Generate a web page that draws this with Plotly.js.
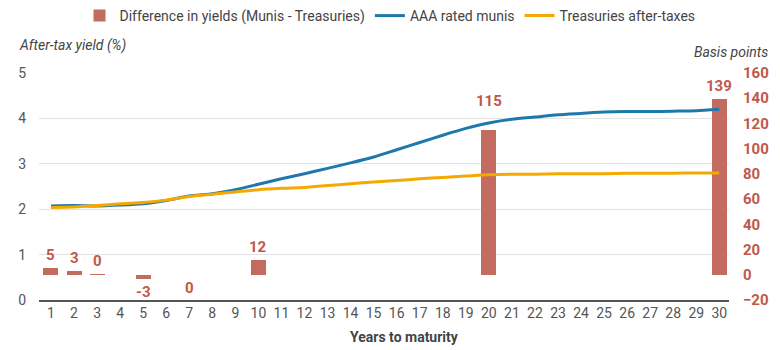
<!DOCTYPE html>
<html>
<head>
<meta charset="utf-8">
<script src="https://cdn.plot.ly/plotly-3.0.1.min.js"></script>
<style>html,body{margin:0;padding:0;background:#fff;}#chart{width:780px;height:350px;}</style>
</head>
<body>
<div id="chart"></div>
<script>
// Years to maturity
const years = [1,2,3,4,5,6,7,8,9,10,11,12,13,14,15,16,17,18,19,20,21,22,23,24,25,26,27,28,29,30];
// After-tax yield (%) – AAA rated munis
const muniYields = [2.07,2.08,2.07,2.09,2.12,2.19,2.29,2.34,2.43,2.55,2.67,2.78,2.90,3.02,3.15,3.31,3.47,3.63,3.78,3.90,3.98,4.03,4.08,4.11,4.14,4.15,4.15,4.16,4.17,4.20];
// After-tax yield (%) – Treasuries after taxes
const treasuryYields = [2.04,2.05,2.08,2.12,2.15,2.20,2.28,2.33,2.38,2.43,2.46,2.48,2.52,2.56,2.60,2.63,2.67,2.70,2.73,2.76,2.77,2.77,2.78,2.78,2.78,2.79,2.79,2.79,2.80,2.80];
// Difference in yields (basis points)
const diffYears = [1,2,3,5,7,10,20,30];
const diffValues = [5,3,0.4,-3,-0.4,12,115,139];
const diffLabels = ["5","3","0","-3","0","12","115","139"];
const xTicks = years;
const leftTicks = [0,1,2,3,4,5];
const rightTicks = [-20,0,20,40,60,80,100,120,140,160];

const FONT = "Roboto, 'Liberation Sans', Arial, sans-serif";
const RED = "#c0584b";
const BAR = "#c26b5e";
const BLUE = "#1f78ab";
const ORANGE = "#f4a900";

// label placement style (pixels), kept apart from the data
const LABEL_GAP = 10;
const LABEL_EXTRA = {20: 16};

const traces = [
  {
    type: "bar", name: "Difference in yields (Munis - Treasuries)",
    x: diffYears, y: diffValues,
    marker: {color: BAR}, width: 0.65, yaxis: "y", hoverinfo: "skip"
  },
  {
    type: "scatter", mode: "lines", name: "AAA rated munis",
    x: years, y: muniYields, yaxis: "y2",
    line: {color: BLUE, width: 3, shape: "spline", smoothing: 0.6}
  },
  {
    type: "scatter", mode: "lines", name: "Treasuries after-taxes",
    x: years, y: treasuryYields, yaxis: "y2",
    line: {color: ORANGE, width: 3, shape: "spline", smoothing: 0.6}
  }
];

const barLabels = diffYears.map((yr, i) => ({
  text: "<b>" + diffLabels[i] + "</b>", x: yr, y: diffValues[i], xref: "x", yref: "y",
  showarrow: false, xanchor: "center", yanchor: diffValues[i] >= 0 ? "bottom" : "top",
  yshift: diffValues[i] >= 0 ? (2 + (LABEL_EXTRA[yr] || 0)) : -2,
  font: {family: FONT, size: 15, color: RED}
}));

const layout = {
  width: 780, height: 350,
  margin: {l: 39, r: 51, t: 73, b: 50},
  paper_bgcolor: "#fff", plot_bgcolor: "#fff",
  font: {family: FONT, size: 14, color: "#555"},
  showlegend: true,
  legend: {orientation: "h", xref: "container", yref: "container", x: 0.5, xanchor: "center", y: 1.0, yanchor: "top",
           font: {family: FONT, size: 14, color: "#444"}, itemwidth: 30, tracegroupgap: 0, traceorder: "normal"},
  bargap: 0,
  xaxis: {
    range: [0.48, 30.42], tickmode: "array", tickvals: xTicks, ticktext: xTicks.map(String),
    showgrid: false, zeroline: false, showline: true, linecolor: "#555", linewidth: 1.5,
    ticks: "", tickfont: {family: FONT, size: 14, color: "#555"}
  },
  yaxis: {
    side: "right", range: [-20, 160], tickmode: "array", tickvals: rightTicks,
    showgrid: false, zeroline: false, ticks: "", ticklabelstandoff: 13,
    tickfont: {family: FONT, size: 15, color: RED, weight: "bold"}
  },
  yaxis2: {
    side: "left", overlaying: "y", range: [0, 5], tickmode: "array", tickvals: leftTicks,
    showgrid: true, gridcolor: "#e3e3e3", gridwidth: 1, zeroline: false, ticks: "", ticklabelstandoff: 12,
    tickfont: {family: FONT, size: 14, color: "#555"}
  },
  annotations: barLabels.concat([
    {text: "After-tax yield (%)", xref: "paper", yref: "paper", x: -0.032, y: 1.119, xanchor: "left", yanchor: "middle",
     showarrow: false, font: {family: FONT, size: 14, color: "#444", style: "italic"}},
    {text: "Basis points", xref: "paper", yref: "paper", x: 1.0594, y: 1.0925, xanchor: "right", yanchor: "middle",
     showarrow: false, font: {family: FONT, size: 14, color: "#444", style: "italic"}},
    {text: "<b>Years to maturity</b>", xref: "paper", yref: "paper", x: 0.5304, y: -0.163, xanchor: "center", yanchor: "middle",
     showarrow: false, font: {family: FONT, size: 14, color: "#444"}}
  ])
};

Plotly.newPlot("chart", traces, layout, {displayModeBar: false, staticPlot: true});
</script>
</body>
</html>
